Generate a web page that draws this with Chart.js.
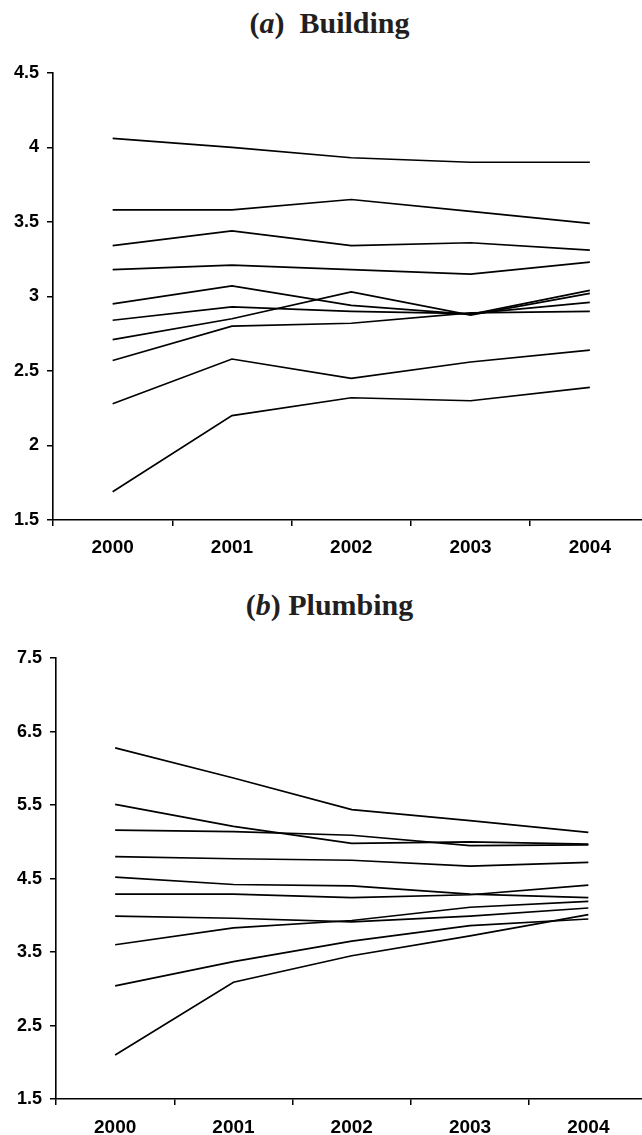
<!DOCTYPE html>
<html>
<head>
<meta charset="utf-8">
<script src="https://cdn.jsdelivr.net/npm/chart.js@4.4.0/dist/chart.umd.min.js"></script>
<style>
    html, body { margin: 0; padding: 0; overflow: hidden; background: #fff; }
    body { width: 642px; height: 1135px; position: relative; }
    .title {
        position: absolute; left: 0; width: 659px; text-align: center;
        font-family: "Liberation Serif", "Times New Roman", serif;
        font-weight: bold; font-size: 30px; line-height: 30px; color: #231f20;
    }
    .wrap { position: absolute; left: 0; }
</style>
</head>
<body>
<div class="title" style="top:8px">(<i>a</i>)&nbsp; Building</div>
<div class="wrap" style="top:50px"><canvas id="buildingChart" width="660" height="510"></canvas></div>
<div class="title" style="top:590px">(<i>b</i>) Plumbing</div>
<div class="wrap" style="top:630px"><canvas id="plumbingChart" width="660" height="505"></canvas></div>

<script>
const A_years = ["2000", "2001", "2002", "2003", "2004"];

// (a) Building
const A_buildingTicks = [1.5, 2, 2.5, 3, 3.5, 4, 4.5];
const A_bld1 = [4.06, 4.00, 3.93, 3.90, 3.90];
const A_bld2 = [3.58, 3.58, 3.65, 3.57, 3.49];
const A_bld3 = [3.34, 3.44, 3.34, 3.36, 3.31];
const A_bld4 = [3.18, 3.21, 3.18, 3.15, 3.23];
const A_bld5 = [2.95, 3.07, 2.94, 2.88, 3.04];
const A_bld6 = [2.84, 2.93, 2.90, 2.885, 2.96];
const A_bld7 = [2.71, 2.85, 3.03, 2.875, 3.02];
const A_bld8 = [2.57, 2.80, 2.82, 2.89, 2.90];
const A_bld9 = [2.28, 2.58, 2.45, 2.56, 2.64];
const A_bld10 = [1.69, 2.20, 2.32, 2.30, 2.39];

// (b) Plumbing
const A_plumbingTicks = [1.5, 2.5, 3.5, 4.5, 5.5, 6.5, 7.5];
const A_plb1 = [6.28, 5.87, 5.44, 5.29, 5.13];
const A_plb2 = [5.51, 5.21, 4.98, 5.00, 4.97];
const A_plb3 = [5.16, 5.14, 5.09, 4.95, 4.96];
const A_plb4 = [4.80, 4.77, 4.75, 4.67, 4.72];
const A_plb5 = [4.52, 4.42, 4.40, 4.29, 4.24];
const A_plb6 = [4.29, 4.29, 4.24, 4.28, 4.41];
const A_plb7 = [3.99, 3.96, 3.91, 3.99, 4.10];
const A_plb8 = [3.60, 3.83, 3.93, 4.11, 4.19];
const A_plb9 = [3.04, 3.37, 3.65, 3.86, 3.95];
const A_plb10 = [2.10, 3.09, 3.45, 3.72, 4.01];

const S_sans = '"Liberation Sans", Arial, sans-serif';

function makeChart(S_id, A_series, A_ticks, O_geom) {
    return new Chart(S_id, {
        type: "line",
        data: {
            labels: A_years,
            datasets: A_series.map(A_values => ({
                data: A_values,
                borderColor: "#000",
                borderWidth: 1.7,
                pointRadius: 0,
                fill: false,
                tension: 0
            }))
        },
        options: {
            responsive: false,
            animation: false,
            layout: { padding: { top: O_geom.top, right: O_geom.right, left: 0, bottom: 0 } },
            plugins: { legend: { display: false }, tooltip: { enabled: false } },
            scales: {
                x: {
                    type: "category",
                    offset: true,
                    afterFit: s => { s.height = O_geom.xHeight; },
                    grid: { offset: true, drawOnChartArea: false, drawTicks: true, tickLength: 6, color: "#000", lineWidth: 1.5 },
                    border: { display: true, color: "#000", width: 1.6 },
                    ticks: { color: "#000", padding: O_geom.xPad, maxRotation: 0, font: { family: S_sans, size: 19, weight: "bold" } }
                },
                y: {
                    min: A_ticks[0],
                    max: A_ticks[A_ticks.length - 1],
                    afterFit: s => { s.width = O_geom.yWidth; },
                    afterBuildTicks: s => { s.ticks = A_ticks.map(v => ({ value: v })); },
                    grid: { drawOnChartArea: false, drawTicks: true, tickLength: 6, color: "#000", lineWidth: 1.5 },
                    border: { display: true, color: "#000", width: 1.6 },
                    ticks: { color: "#000", padding: 8, callback: v => String(v), font: { family: S_sans, size: 18, weight: "bold" } }
                }
            }
        }
    });
}

makeChart("buildingChart",
    [A_bld1, A_bld2, A_bld3, A_bld4, A_bld5, A_bld6, A_bld7, A_bld8, A_bld9, A_bld10],
    A_buildingTicks,
    { top: 22.8, right: 10.5, xHeight: 40, yWidth: 53, xPad: 10 });

makeChart("plumbingChart",
    [A_plb1, A_plb2, A_plb3, A_plb4, A_plb5, A_plb6, A_plb7, A_plb8, A_plb9, A_plb10],
    A_plumbingTicks,
    { top: 28.2, right: 12.5, xHeight: 36, yWidth: 56, xPad: 11 });
</script>
</body>
</html>
